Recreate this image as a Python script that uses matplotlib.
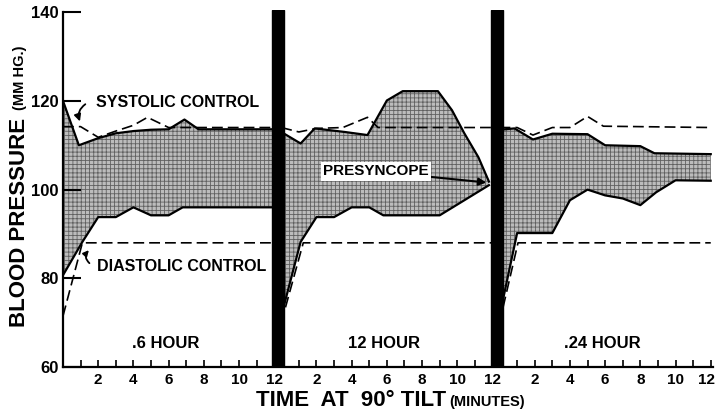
import numpy as np
import matplotlib
matplotlib.use("Agg")
from matplotlib import pyplot as plt
from matplotlib.transforms import ScaledTranslation

plt.rcParams['font.family'] = ['Liberation Sans', 'DejaVu Sans']
plt.rcParams['font.weight'] = 'bold'
plt.rcParams['hatch.linewidth'] = 0.6

PANEL_SHIFT = 12.4   # minutes between the origins of successive panels
panel_names = [".6 HOUR", "12 HOUR", ".24 HOUR"]

# systolic pressure during tilt (minutes, mm Hg)
sys_t = [
    [0, 0.9, 2.0, 3.0, 4.0, 5.0, 6.0, 6.9, 7.7, 12],
    [0, 1.1, 1.9, 3.6, 4.9, 6.0, 6.9, 8.9, 9.7, 10.4, 11.2, 11.8],
    [0, 0.85, 1.9, 3.0, 5.0, 6.0, 8.0, 8.8, 12],
]
sys_v = [
    [120, 110, 111.6, 112.7, 113.2, 113.5, 113.6, 115.8, 113.6, 113.6],
    [113, 110.4, 113.8, 113.0, 112.3, 120.1, 122.2, 122.2, 117.9, 112.7, 107.3, 101.8],
    [113.5, 113.8, 111.3, 112.6, 112.5, 110.0, 109.8, 108.2, 108.0],
]

# diastolic pressure during tilt
dia_t = [
    [0, 1.1, 2.0, 3.0, 4.0, 5.0, 6.0, 6.8, 12],
    [0, 1.1, 2.0, 3.0, 4.0, 5.0, 5.8, 9.0, 10.4, 11.8],
    [0, 1.0, 3.0, 4.0, 5.0, 6.0, 7.0, 8.0, 8.9, 10.0, 12],
]
dia_v = [
    [80.7, 88.2, 93.8, 93.8, 96.0, 94.2, 94.2, 96.0, 96.0],
    [71.5, 88.2, 93.8, 93.8, 96.0, 96.0, 94.2, 94.2, 97.6, 101.0],
    [71.5, 90.2, 90.2, 97.6, 100.0, 98.7, 98.0, 96.5, 99.4, 102.1, 102.0],
]

# control values (dashed)
sys_ctl_t = [
    [0, 1.0, 2.0, 3.0, 4.0, 4.8, 6.0, 12],
    [0, 1.0, 2.0, 3.5, 4.9, 5.5, 12],
    [0, 1.0, 1.9, 3.0, 4.0, 5.0, 5.9, 12],
]
sys_ctl_v = [
    [114.2, 114.2, 111.8, 113.2, 114.5, 116.3, 114.0, 114.0],
    [114.0, 113.0, 113.8, 114.0, 116.3, 114.0, 114.0],
    [114.0, 114.0, 112.3, 114.0, 114.0, 116.5, 114.3, 114.0],
]
dia_ctl_t = [[0, 1.1, 12], [0, 1.25, 12], [0, 1.05, 12]]
dia_ctl_v = [[71.5, 88.0, 88.0], [70.0, 88.0, 88.0], [70.0, 88.0, 88.0]]

minute_ticks = list(range(1, 13))
minute_labels = ["" if m % 2 else str(m) for m in minute_ticks]

fig = plt.figure(figsize=(7.15, 4.16), dpi=100)
ax = fig.add_axes([63 / 715, 49 / 416, 649.5 / 715, 357 / 416])

for k in range(3):
    off = k * PANEL_SHIFT
    st = np.array(sys_t[k]) + off
    dt = np.array(dia_t[k]) + off
    grid = np.union1d(st, dt)
    grid = grid[(grid >= max(st[0], dt[0])) & (grid <= min(st[-1], dt[-1]))]
    upper = np.interp(grid, st, sys_v[k])
    lower = np.interp(grid, dt, dia_v[k])
    ax.fill_between(grid, lower, upper, facecolor='#bcbcbc', hatch='++++',
                    edgecolor='#606060', linewidth=0, zorder=1)
    ax.plot(st, sys_v[k], color='black', lw=1.6, zorder=3)
    ax.plot(dt, dia_v[k], color='black', lw=1.6, zorder=3)
    ax.plot(np.array(sys_ctl_t[k]) + off, sys_ctl_v[k], color='black', lw=1.2,
            dashes=(6.5, 3), zorder=3)
    ax.plot(np.array(dia_ctl_t[k]) + off, dia_ctl_v[k], color='black', lw=1.2,
            dashes=(6.5, 3), zorder=3)
    ax.text(off + 5.85, 65.4, panel_names[k], ha='center', va='center',
            fontsize=12, fontweight='bold')

# thick separators between the tilt sessions
for k in (1, 2):
    ax.axvspan(k * PANEL_SHIFT - 0.5, k * PANEL_SHIFT + 0.17, color='black', zorder=5)

ax.set_xlim(0, 36.9)
ax.set_ylim(60, 140.5)

xt = [k * PANEL_SHIFT + m for k in range(3) for m in minute_ticks]
ax.set_xticks(xt)
ax.set_xticklabels(minute_labels * 3)
ax.set_yticks([60, 80, 100, 120, 140])
ax.tick_params(axis='x', direction='in', length=5, width=1.2, pad=4, labelsize=11)
ax.tick_params(axis='y', direction='in', length=13, width=1.5, pad=3, labelsize=12)

# keep the last "12" inside the figure
last = ax.get_xticklabels()[-1]
last.set_transform(last.get_transform() + ScaledTranslation(-4 / 100, 0, fig.dpi_scale_trans))

for name in ('top', 'right'):
    ax.spines[name].set_visible(False)
ax.spines['left'].set_bounds(60, 140)
ax.spines['left'].set_linewidth(1.6)
ax.spines['bottom'].set_linewidth(1.6)

ax.text(1.85, 119.6, "SYSTOLIC CONTROL", ha='left', va='center', fontsize=11.5)
ax.text(1.93, 82.7, "DIASTOLIC CONTROL", ha='left', va='center', fontsize=11.5)
ax.annotate("", xy=(1.02, 114.8), xytext=(1.4, 119.6),
            arrowprops=dict(arrowstyle='-|>', color='black', lw=1.3,
                            connectionstyle='arc3,rad=0.45'))
ax.annotate("", xy=(1.58, 86.8), xytext=(1.62, 83.0),
            arrowprops=dict(arrowstyle='-|>', color='black', lw=1.3,
                            mutation_scale=8, connectionstyle='arc3,rad=-0.6'))
ax.annotate("PRESYNCOPE", xy=(PANEL_SHIFT + 11.65, 101.6), xytext=(PANEL_SHIFT + 5.4, 104.1),
            ha='center', va='center', fontsize=11,
            bbox=dict(boxstyle='square,pad=0.15', fc='white', ec='none'),
            arrowprops=dict(arrowstyle='-|>', color='black', lw=1.5, shrinkA=0, shrinkB=0))

fig.text(20 / 715, 1 - 222 / 416, "BLOOD PRESSURE", rotation=90, ha='center', va='center',
         fontsize=16)
fig.text(20 / 715, 1 - 78 / 416, "(MM HG.)", rotation=90, ha='center', va='center',
         fontsize=10.5)
fig.text(351 / 715, 1 - 401 / 416, "TIME  AT  90° TILT", ha='center', va='center', fontsize=16)
fig.text(487 / 715, 1 - 402 / 416, "(MINUTES)", ha='center', va='center', fontsize=10.5)

fig.savefig("out.png", dpi=100)
